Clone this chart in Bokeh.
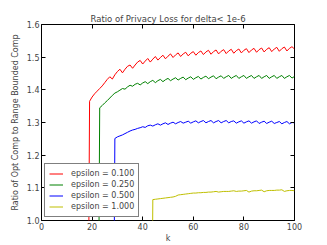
from bokeh.plotting import figure
from bokeh.models import Range1d, FixedTicker, LinearAxis, Legend, LegendItem, NumeralTickFormatter
from bokeh.embed import file_html
from bokeh.resources import INLINE

title_text = "Ratio of Privacy Loss for delta< 1e-6"
x_label = "k"
y_label = "Ratio of Opt Comp to Range Bounded Comp"
x_ticks = [0, 20, 40, 60, 80, 100]
y_ticks = [1.0, 1.1, 1.2, 1.3, 1.4, 1.5, 1.6]

labels = ["epsilon = 0.100", "epsilon = 0.250", "epsilon = 0.500", "epsilon = 1.000"]
colors = ["#ff0000", "#008000", "#0000ff", "#bfbf00"]

# last k with a value of 0 (below the plot) before each curve starts
k_zero = [18, 22, 28, 43]

eps_010 = [1.365, 1.378, 1.388, 1.396, 1.404, 1.412, 1.422, 1.432, 1.440, 1.433,
           1.446, 1.456, 1.463, 1.452, 1.463, 1.472, 1.476, 1.466, 1.476, 1.485,
           1.490, 1.479, 1.488, 1.496, 1.485, 1.494, 1.502, 1.491, 1.499, 1.506,
           1.495, 1.503, 1.510, 1.499, 1.507, 1.513, 1.502, 1.510, 1.515, 1.504,
           1.512, 1.517, 1.506, 1.514, 1.519, 1.508, 1.516, 1.521, 1.509, 1.517,
           1.522, 1.510, 1.518, 1.523, 1.511, 1.519, 1.524, 1.512, 1.520, 1.525,
           1.513, 1.521, 1.526, 1.514, 1.522, 1.527, 1.515, 1.523, 1.528, 1.516,
           1.524, 1.529, 1.517, 1.525, 1.530, 1.518, 1.526, 1.531, 1.519, 1.527,
           1.532, 1.525]
eps_025 = [1.345, 1.352, 1.360, 1.367, 1.375, 1.383, 1.390, 1.394, 1.399, 1.404,
           1.402, 1.409, 1.414, 1.411, 1.417, 1.420, 1.415, 1.421, 1.425, 1.419,
           1.425, 1.429, 1.422, 1.428, 1.432, 1.425, 1.431, 1.435, 1.428, 1.433,
           1.437, 1.430, 1.435, 1.439, 1.431, 1.436, 1.440, 1.432, 1.437, 1.441,
           1.433, 1.438, 1.442, 1.434, 1.439, 1.443, 1.434, 1.439, 1.443, 1.435,
           1.440, 1.444, 1.435, 1.440, 1.444, 1.435, 1.440, 1.444, 1.435, 1.440,
           1.444, 1.435, 1.440, 1.444, 1.435, 1.440, 1.444, 1.435, 1.440, 1.444,
           1.435, 1.440, 1.444, 1.435, 1.440, 1.444, 1.436, 1.441]
eps_050 = [1.251, 1.256, 1.259, 1.262, 1.266, 1.270, 1.274, 1.277, 1.279, 1.282,
           1.284, 1.287, 1.285, 1.290, 1.292, 1.289, 1.293, 1.296, 1.292, 1.296,
           1.299, 1.294, 1.298, 1.301, 1.296, 1.300, 1.303, 1.298, 1.301, 1.304,
           1.298, 1.302, 1.305, 1.299, 1.303, 1.306, 1.299, 1.303, 1.306, 1.299,
           1.303, 1.306, 1.299, 1.303, 1.306, 1.299, 1.303, 1.305, 1.298, 1.302,
           1.305, 1.298, 1.302, 1.305, 1.298, 1.302, 1.305, 1.297, 1.301, 1.304,
           1.297, 1.301, 1.304, 1.297, 1.300, 1.303, 1.296, 1.300, 1.303, 1.296,
           1.300, 1.299]
eps_100 = [1.064, 1.065, 1.066, 1.067, 1.068, 1.069, 1.070, 1.071, 1.072, 1.074,
           1.078, 1.079, 1.080, 1.081, 1.082, 1.083, 1.084, 1.084, 1.085, 1.085,
           1.086, 1.086, 1.087, 1.087, 1.088, 1.089, 1.087, 1.088, 1.089, 1.089,
           1.089, 1.090, 1.091, 1.089, 1.090, 1.090, 1.091, 1.092, 1.087, 1.090,
           1.091, 1.091, 1.092, 1.093, 1.088, 1.091, 1.092, 1.092, 1.092, 1.093,
           1.093, 1.094, 1.089, 1.091, 1.092, 1.092, 1.091]

series = [eps_010, eps_025, eps_050, eps_100]

FONT = "DejaVu Sans"

p = figure(width=327, height=245, output_backend="svg", toolbar_location=None,
           x_range=Range1d(0, 100), y_range=Range1d(1.0, 1.6),
           min_border_left=41, min_border_right=33, min_border_top=24, min_border_bottom=25)
p.background_fill_color = "white"
p.border_fill_color = "white"
p.outline_line_color = "black"
p.outline_line_width = 1
p.xgrid.visible = False
p.ygrid.visible = False

p.title.text = title_text
p.title.align = "center"
p.title.text_font = FONT
p.title.text_font_size = "8.5px"
p.title.text_font_style = "normal"
p.title.standoff = 2

def style_axis(ax, show_labels=True):
    ax.axis_line_color = None
    ax.major_tick_in = 4
    ax.major_tick_out = 0
    ax.minor_tick_line_color = None
    ax.major_tick_line_color = "black"
    ax.major_label_text_font = FONT
    ax.major_label_text_font_size = "8px" if show_labels else "0px"
    ax.major_label_standoff = 2 if show_labels else 0
    ax.axis_label_text_font = FONT
    ax.axis_label_text_font_size = "8px"
    ax.axis_label_text_font_style = "normal"

xa = p.xaxis[0]
ya = p.yaxis[0]
xa.ticker = FixedTicker(ticks=x_ticks)
ya.ticker = FixedTicker(ticks=y_ticks)
ya.formatter = NumeralTickFormatter(format="0.0")
style_axis(xa)
style_axis(ya)
xa.axis_label = x_label
ya.axis_label = y_label
xa.axis_label_standoff = 1
ya.axis_label_standoff = 4

ra = LinearAxis(ticker=FixedTicker(ticks=y_ticks))
style_axis(ra, False)
ra.major_label_text_color = None
p.add_layout(ra, "right")
ta = LinearAxis(ticker=FixedTicker(ticks=x_ticks))
style_axis(ta, False)
ta.major_label_text_color = None
p.add_layout(ta, "above")

items = []
for kz, vals, col, lab in zip(k_zero, series, colors, labels):
    ks = list(range(kz, kz + len(vals) + 1))
    ys = [0.0] + vals
    r = p.line(ks, ys, line_color=col, line_width=1)
    items.append(LegendItem(label=lab, renderers=[r]))

legend = Legend(items=items, location="bottom_left")
legend.margin = 3
legend.padding = 4
legend.spacing = 0
legend.label_height = 11
legend.glyph_height = 11
legend.glyph_width = 14
legend.label_standoff = 8
legend.label_text_font = FONT
legend.label_text_font_size = "8px"
legend.border_line_color = "black"
legend.border_line_width = 1
legend.background_fill_alpha = 1.0
p.add_layout(legend)

open("out.html", "w").write(file_html(p, INLINE))
